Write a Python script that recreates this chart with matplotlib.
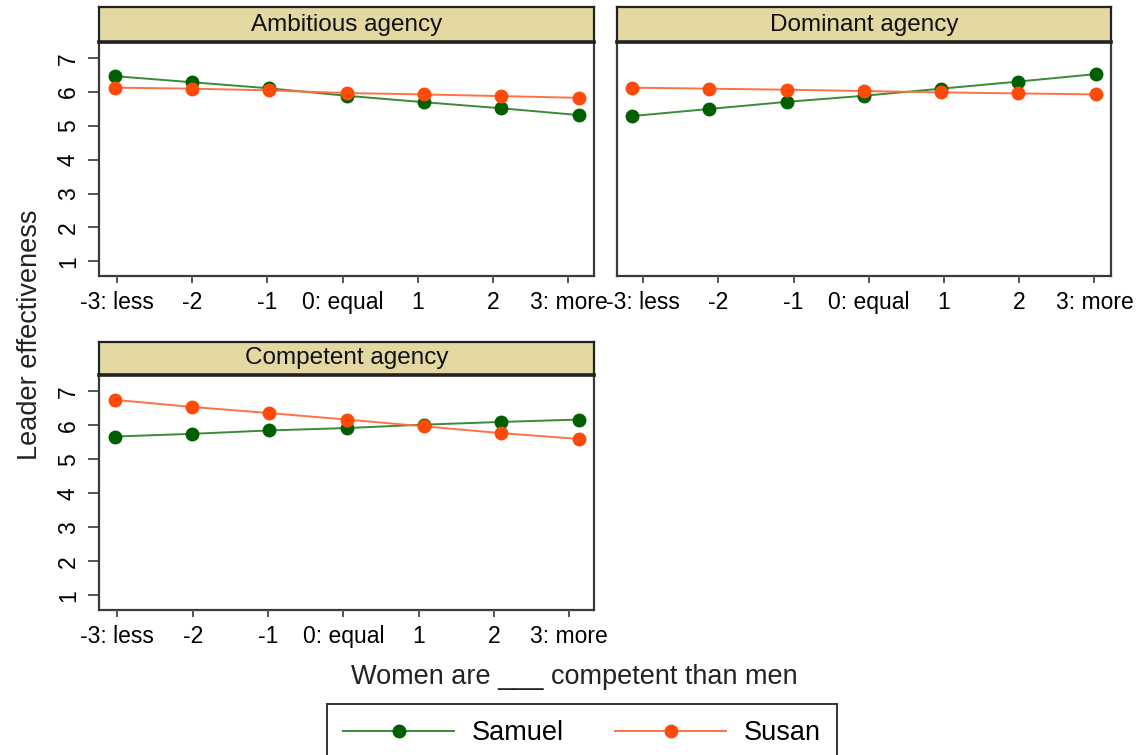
import matplotlib
matplotlib.use('Agg')
import matplotlib.pyplot as plt
from matplotlib.lines import Line2D

plt.rcParams['font.family'] = ['Liberation Sans', 'DejaVu Sans']

# predictor levels and their tick labels
levels = [-3, -2, -1, 0, 1, 2, 3]
level_labels = ['-3: less', '-2', '-1', '0: equal', '1', '2', '3: more']

panel_titles = ['Ambitious agency', 'Dominant agency', 'Competent agency']

ambitious_samuel = [6.47, 6.29, 6.11, 5.89, 5.70, 5.52, 5.32]
ambitious_susan = [6.13, 6.10, 6.05, 5.97, 5.93, 5.88, 5.83]
dominant_samuel = [5.29, 5.50, 5.71, 5.89, 6.10, 6.31, 6.53]
dominant_susan = [6.13, 6.10, 6.07, 6.03, 5.99, 5.96, 5.93]
competent_samuel = [5.67, 5.75, 5.85, 5.92, 6.02, 6.10, 6.17]
competent_susan = [6.75, 6.54, 6.36, 6.17, 5.97, 5.77, 5.60]

samuel = [ambitious_samuel, dominant_samuel, competent_samuel]
susan = [ambitious_susan, dominant_susan, competent_susan]

W, H = 1142, 755
SAM_LINE, SAM_DOT = '#3a8a3a', '#005f00'
SUS_LINE, SUS_DOT = '#ff7145', '#ff4a0a'
STRIP = '#e3d8a2'
LW, MS = 1.4, 9

# (left, top, right, bottom) of each plot region in pixels
boxes = [(99.3, 42.0, 594.0, 275.7),
         (616.7, 42.0, 1111.0, 275.7),
         (99.3, 375.0, 594.0, 610.0)]
strip_h = [34.7, 34.7, 33.3]
# the tick scale is offset a little from the marker scale in each panel
tick_lims = [(-3.23, 3.34), (-3.35, 3.22), (-3.24, 3.33)]

fig = plt.figure(figsize=(W / 100, H / 100), dpi=100)

for i, (l, t, r, b) in enumerate(boxes):
    ax = fig.add_axes([l / W, 1 - b / H, (r - l) / W, (b - t) / H])
    ax.plot(levels, samuel[i], color=SAM_LINE, lw=LW, marker='o', ms=MS,
            mfc=SAM_DOT, mec=SAM_DOT, zorder=3)
    ax.plot(levels, susan[i], color=SUS_LINE, lw=LW, marker='o', ms=MS,
            mfc=SUS_DOT, mec=SUS_DOT, zorder=4)
    ax.set_xlim(-3.2, 3.2)
    ax.set_ylim(0.57, 7.48)
    for s in ax.spines.values():
        s.set_color('#3a3a3a')
        s.set_linewidth(1.6)
    ax.set_xticks([])
    if i == 1:
        ax.set_yticks([])
    else:
        ax.set_yticks(range(1, 8))
        ax.tick_params(axis='y', length=8, width=1.4, color='#555555',
                       pad=6, labelsize=16.5)
        for lab in ax.get_yticklabels():
            lab.set_rotation(90)
            lab.set_va('center')

    tx = ax.twiny()
    tx.xaxis.set_ticks_position('bottom')
    tx.set_xlim(*tick_lims[i])
    tx.set_xticks(levels)
    tx.set_xticklabels(level_labels)
    tx.tick_params(axis='x', length=5, width=1.4, color='#555555',
                   pad=6, labelsize=16.5)
    for s in tx.spines.values():
        s.set_visible(False)

    # title strip
    sa = fig.add_axes([l / W, 1 - t / H, (r - l) / W, strip_h[i] / H])
    sa.set_facecolor(STRIP)
    sa.set_xticks([])
    sa.set_yticks([])
    for s in sa.spines.values():
        s.set_color('#222222')
        s.set_linewidth(1.6)
    sa.spines['bottom'].set_linewidth(2.6)
    sa.text(0.5, 0.5, panel_titles[i], ha='center', va='center',
            fontsize=17.5, color='#111111', transform=sa.transAxes)

fig.text(30 / W, 1 - 335 / H, 'Leader effectiveness', rotation=90,
         ha='center', va='center', fontsize=19.5, color='#222222')
fig.text(574 / W, 1 - 677 / H, 'Women are ___ competent than men',
         ha='center', va='center', fontsize=19.5, color='#222222')

handles = [Line2D([], [], color=SAM_LINE, lw=LW, marker='o', ms=MS,
                  mfc=SAM_DOT, mec=SAM_DOT),
           Line2D([], [], color=SUS_LINE, lw=LW, marker='o', ms=MS,
                  mfc=SUS_DOT, mec=SUS_DOT)]
leg = fig.legend(handles, ['Samuel', 'Susan'], ncol=2, loc='upper center',
                 bbox_to_anchor=(582 / W, 1 - 704 / H), borderaxespad=0,
                 fontsize=19.5, handlelength=4.1, handletextpad=0.65,
                 columnspacing=1.9, borderpad=0.6, fancybox=False,
                 frameon=True, framealpha=1, edgecolor='#333333')
leg.get_frame().set_linewidth(1.4)

fig.savefig('out.png', dpi=100)
